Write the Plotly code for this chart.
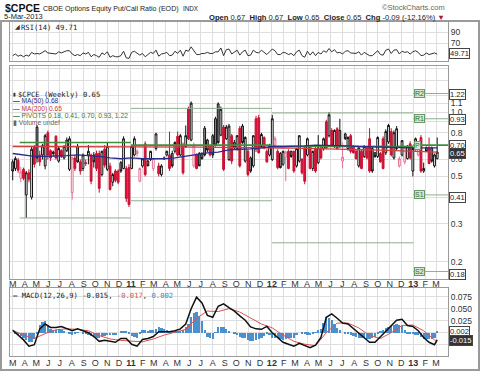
import math
import pandas as pd
import plotly.graph_objects as go

W, H = 480, 372
def fx(px): return px / W
def fy(py): return 1 - py / H

# ---------------- data ----------------
dates = pd.date_range("2010-03-01", periods=158, freq="7D")

opens = [.585,.545,.595,.49,.54,.41,.52,.40,.69,.85,.63,.63,.56,.80,.66,.65,.77,.59,.66,.61,
         .66,.54,.42,.61,.69,.585,.545,.58,.63,.63,.63,.64,.64,.51,.67,.54,.56,.47,.53,.53,
         .58,.545,.545,.55,.545,.63,.64,.475,.56,.71,.59,.60,
         .545,.675,.56,.51,.61,.63,.63,.64,.655,.77,.63,.70,.69,1.04,.74,.56,.63,.64,
         .64,.84,.74,.69,.775,.93,1.09,.78,.85,.75,.60,.775,.72,.675,.84,.86,.59,.655,.61,.56,
         .93,.94,.69,.76,.655,.63,.60,.70,.655,.64,.57,.615,.655,.655,.655,.56,.59,.60,
         .68,.63,.69,.545,.675,.58,.68,.675,.90,.775,.82,.69,.835,.82,.59,.79,.675,.775,.69,.655,
         .56,.655,.62,.68,.75,.675,.645,.62,.64,.75,.645,.725,.81,.61,.675,.56,.63,.585,.606,.71,
         .53,.675,.63,.76,.53,.68,.68,.68,.56,.606]
highs = [.60,.62,.61,.555,.55,.53,.54,.69,.70,.87,.66,.71,.79,.82,.67,.66,.78,.69,.67,.70,
         .76,.77,.62,.63,.71,.60,.64,.60,.70,.64,.65,.66,.66,.66,.70,.72,.58,.52,.54,.54,
         .59,.77,.56,.57,.70,.77,.67,.55,.61,.73,.60,.66,
         .61,.80,.58,.57,.62,.66,.81,.66,.73,.81,.79,.72,.865,1.06,1.12,.72,.64,.65,
         .65,.86,.75,.70,.79,.95,1.11,1.06,.87,.87,.88,.79,.74,.78,.86,.88,.77,.67,.62,.78,
         .96,.97,.80,.77,.67,.71,.97,.77,.67,.65,.66,.66,.67,.66,.66,.68,.78,.61,
         .70,.76,.70,.66,.69,.78,.69,.76,.92,1.00,.84,.83,.85,.93,.72,.80,.77,.79,.70,.67,
         .69,.67,.70,.69,.84,.69,.65,.77,.65,.77,.83,.88,.84,.82,.86,.62,.74,.69,.70,.73,
         .69,.76,.69,.78,.58,.69,.76,.69,.64,.76]
lows = [.48,.53,.52,.47,.48,.32,.47,.39,.55,.58,.56,.60,.54,.60,.59,.62,.60,.58,.61,.60,
        .65,.53,.39,.53,.58,.51,.53,.56,.57,.46,.55,.53,.42,.50,.55,.53,.43,.45,.47,.46,
        .52,.54,.38,.36,.54,.62,.62,.47,.55,.50,.56,.59,
        .53,.66,.50,.50,.60,.62,.53,.55,.64,.62,.62,.51,.68,.74,.73,.55,.54,.56,
        .60,.62,.65,.62,.61,.69,.71,.77,.53,.74,.59,.57,.67,.66,.55,.71,.58,.50,.52,.55,
        .65,.64,.68,.67,.58,.62,.59,.69,.54,.545,.56,.475,.54,.61,.52,.55,.58,.51,
        .46,.62,.54,.53,.52,.57,.60,.66,.67,.76,.69,.68,.67,.68,.545,.74,.66,.64,.64,.60,
        .55,.54,.61,.60,.52,.52,.61,.61,.58,.54,.63,.71,.62,.60,.66,.55,.62,.57,.60,.60,
        .50,.66,.62,.52,.52,.65,.57,.58,.55,.60]
closes = [.53,.606,.535,.525,.49,.52,.485,.67,.57,.61,.585,.695,.775,.63,.61,.64,.61,.675,.62,.69,
          .74,.75,.61,.545,.585,.53,.63,.575,.655,.475,.585,.545,.44,.655,.565,.69,.435,.51,.48,.47,
          .53,.75,.395,.37,.69,.75,.655,.545,.605,.51,.56,.655,
          .606,.79,.515,.56,.605,.655,.545,.56,.72,.63,.775,.52,.775,.75,1.10,.70,.545,.56,
          .605,.63,.665,.63,.63,.70,.72,1.03,.54,.85,.86,.59,.68,.775,.56,.72,.76,.51,.53,.775,
          .67,.645,.785,.68,.585,.695,.93,.75,.55,.55,.655,.65,.545,.62,.53,.675,.775,.52,
          .475,.75,.545,.655,.53,.68,.61,.75,.68,.97,.70,.82,.675,.69,.615,.75,.76,.655,.645,.605,
          .68,.545,.69,.61,.53,.53,.62,.76,.585,.545,.81,.865,.63,.80,.835,.605,.735,.68,.69,.61,
          .675,.75,.68,.53,.545,.655,.575,.59,.63,.65]

rsi = [47,50,46,48,45,48,46,53,50,51, 50,53,56,52,51,51,50,54,52,54,
       56,56,50,47,49,47,52,50,53,45, 49,47,44,52,49,54,44,47,45,45,
       47,55,43,42,53,55,52,48,51,45, 49,53,51,57,46,50,51,53,47,48,
       55,51,57,46,57,55,63,56,49,49, 51,51,53,51,51,54,54,61,47,58,
       59,50,53,57,48,54,57,47,48,57, 53,52,57,53,49,54,59,56,49,49,
       53,52,49,51,47,54,57,47,44,55, 48,54,47,53,50,56,53,60,54,58,
       52,53,50,55,56,52,52,51,54,48, 53,50,47,47,51,56,49,48,57,59,
       51,57,58,50,55,53,54,50,54,56, 53,47,48,52,49,50,52,49.71]

# moving averages read every 4th week (+ last week)
ma50 = [.64,.63,.62,.62,.62,.625,.63,.625,.62,.61,.605,.61,.605,.606,.605,.61,.62,.635,.645,.65,
        .665,.67,.672,.68,.69,.69,.69,.695,.70,.70,.70,.695,.69,.688,.685,.68,.68,.68,.68,.68,.68]
ma200 = [.69,.69,.69,.69,.69,.69,.69,.69,.69,.69,.69,.688,.688,.687,.687,.686,.686,.685,.685,.684,
         .684,.683,.682,.681,.68,.679,.678,.677,.676,.674,.672,.67,.668,.666,.664,.662,.66,.658,.655,.652,.65]

# MACD line read every 2nd week (+ last week)
macd = [.005,-.005,-.015,-.028,-.025,.008,.018,.011,.011,.013,.008,.004,.008,.004,.000,-.008,-.018,-.016,-.018,-.02,
        -.012,-.012,-.024,-.028,-.014,-.012,-.008,.002,.002,.002,.004,.008,.018,.050,.074,.062,.036,.032,.055,.060,
        .052,.045,.035,.026,.012,.008,.007,.013,.000,-.010,-.020,-.024,-.028,-.022,-.027,-.031,-.026,-.010,.032,.039,
        .030,.020,.018,.009,-.002,-.010,-.020,-.020,-.009,.003,.013,.026,.028,.015,.013,.004,-.010,-.020,-.025,-.015]
# signal line read every 4th week (+ last week)
signal = [.005,-.005,-.012,-.002,.006,.008,.007,.004,-.006,-.013,-.016,-.017,-.019,-.013,-.005,.001,.007,.030,.045,.044,
          .050,.043,.030,.018,.010,-.005,-.018,-.024,-.027,.000,.020,.020,.010,-.006,-.012,.000,.015,.016,.004,-.015,-.017]
hist = [0,-.002,-.005,-.007,-.010,-.015,-.019,-.019,-.013,-.001, .015,.022,.025,.015,.008,.006,.005,.005,.006,.002,
        0,-.002,-.004,-.001,.001,0,-.001,-.003,-.004,-.006, -.008,-.010,-.012,-.009,-.006,-.005,-.005,-.005,-.005,0,
        .004,.004,.004,-.001,-.007,-.008,-.010,-.001,.005,.005, .004,.005,.005,.008,.011,.009,.007,.005,.004,.003,
        .003,.003,.004,.006,.011,.019,.032,.042,.044,.034, .024,.006,-.009,-.012,-.013,.001,.011,.012,.012,.007,
        .002,0,-.001,-.005,-.008,-.010,-.010,-.015,-.018,-.017, -.016,-.014,-.011,-.006,-.001,-.005,-.010,-.011,-.012,-.013,
        -.015,-.013,-.012,-.011,-.010,-.005,0,-.002,-.003,-.004, -.005,-.002,.001,.006,.008,.020,.032,.031,.027,.019,
        .010,.005,0,-.001,-.002,-.004,-.006,-.008,-.012,-.012, -.012,-.013,-.014,-.011,-.009,-.003,.003,.006,.009,.011,
        .013,.016,.018,.015,.013,.006,-.001,-.002,-.003,-.004, -.004,-.009,-.014,-.014,-.014,-.013,-.010,.002]

# yearly pivot levels
pivot_start = ["2010-03-19", "2011-01-01", "2012-01-01", "2013-01-01"]
pivot_end = ["2011-01-01", "2012-01-01", "2013-01-01", "2013-04-01"]
pivot_p = [0.72, 0.70, 0.69, 0.70]
pivot_r1 = [None, 1.04, 0.99, 0.93]
pivot_s1 = [0.32, 0.385, 0.245, 0.41]
pivot_r2 = [None, None, None, 1.22]
pivot_s2 = [None, None, None, 0.18]

month_ticks = pd.date_range("2010-03-01", "2013-03-01", freq="MS")
month_text = [("<b>%02d</b>" % (d.year % 100)) if d.month == 1 else "JFMAMJJASOND"[d.month - 1] for d in month_ticks]

# ---------------- figure ----------------
fig = go.Figure()

prev = [closes[0]] + closes[:-1]
up = [c >= p for c, p in zip(closes, prev)]
def pick(arr, mask):
    return [a for a, m in zip(arr, mask) if m]

groups = [
    (up, "#111111", "white", "#111111", "#9a9a9a"),
    ([not u for u in up], "#e2708f", "white", "#c8102e", "#dd1040"),
]
for mask, il, ifc, dl, dfc in groups:
    fig.add_trace(go.Candlestick(
        x=pick(list(dates), mask), open=pick(opens, mask), high=pick(highs, mask),
        low=pick(lows, mask), close=pick(closes, mask),
        increasing=dict(line=dict(color=il, width=1), fillcolor=ifc),
        decreasing=dict(line=dict(color=dl, width=1), fillcolor=dfc),
        whiskerwidth=0, xaxis="x2", yaxis="y2", showlegend=False, hoverinfo="skip"))

def seg_trace(levels, color, width):
    xs, ys = [], []
    for s, e, v in zip(pivot_start, pivot_end, levels):
        if v is None:
            continue
        xs += [s, e, None]
        ys += [v, v, None]
    return go.Scatter(x=xs, y=ys, mode="lines", line=dict(color=color, width=width),
                      xaxis="x2", yaxis="y2", showlegend=False, hoverinfo="skip")

for lv in (pivot_r1, pivot_s1, pivot_r2, pivot_s2):
    fig.add_trace(seg_trace(lv, "#8db08d", 1))
fig.add_trace(seg_trace(pivot_p, "#3f8f3f", 1.6))

ma_dates = list(dates[0::4]) + [dates[-1]]
fig.add_trace(go.Scatter(x=ma_dates, y=ma200, mode="lines", line=dict(color="#d04040", width=1.3),
                         xaxis="x2", yaxis="y2", showlegend=False, hoverinfo="skip"))
fig.add_trace(go.Scatter(x=ma_dates, y=ma50, mode="lines", line=dict(color="#2b2b8c", width=1.3),
                         xaxis="x2", yaxis="y2", showlegend=False, hoverinfo="skip"))

# RSI
fig.add_trace(go.Scatter(x=dates, y=rsi, mode="lines", line=dict(color="#333333", width=1),
                         xaxis="x", yaxis="y", showlegend=False, hoverinfo="skip"))

# MACD
fig.add_trace(go.Bar(x=dates, y=hist, marker=dict(color="#4a90cf", line=dict(width=0)),
                     width=6 * 86400000, xaxis="x3", yaxis="y3", showlegend=False, hoverinfo="skip"))
fig.add_trace(go.Scatter(x=ma_dates, y=signal, mode="lines", line=dict(color="#d9534f", width=1),
                         xaxis="x3", yaxis="y3", showlegend=False, hoverinfo="skip"))
macd_dates = list(dates[0::2]) + [dates[-1]]
fig.add_trace(go.Scatter(x=macd_dates, y=macd, mode="lines", line=dict(color="#111111", width=1.5),
                         xaxis="x3", yaxis="y3", showlegend=False, hoverinfo="skip"))

xr = ["2010-02-22", "2013-04-01"]
grid = "#dedede"
border = "#9a9a9a"
tickfont = dict(family="Liberation Sans, Arial", size=9, color="#333333")
xdom = [fx(10), fx(448)]
common_x = dict(type="date", range=xr, domain=xdom, tickvals=month_ticks, ticktext=month_text,
                showgrid=True, gridcolor=grid, gridwidth=1, showline=True, linecolor=border,
                mirror=True, ticks="", tickfont=tickfont, zeroline=False)
common_y = dict(side="right", showgrid=True, gridcolor=grid, showline=True, linecolor=border,
                mirror=True, ticks="", tickfont=dict(family="Liberation Sans, Arial", size=8.5, color="#333"),
                zeroline=False)

main_ticks = [0.2, 0.3, 0.4, 0.5, 0.6, 0.7, 0.8, 0.9, 1.0, 1.1, 1.2, 1.4, 1.6]
main_text = ["0.2", "0.3", "", "0.5", "0.6", "", "0.8", "", "1.0", "1.1", "", "", ""]

fig.update_layout(
    width=W, height=H, margin=dict(l=0, r=0, t=0, b=0),
    paper_bgcolor="white", plot_bgcolor="white", bargap=0, boxgap=0.05,
    xaxis=dict(common_x, anchor="y", showticklabels=False),
    xaxis2=dict(common_x, anchor="y2", matches="x", rangeslider=dict(visible=False), ticklabelstandoff=-4),
    xaxis3=dict(common_x, anchor="y3", matches="x", ticklabelstandoff=-2),
    yaxis=dict(common_y, domain=[fy(61), fy(22)], range=[37.3, 108.2], tickvals=[70, 90], anchor="x"),
    yaxis2=dict(common_y, domain=[fy(279), fy(66)], type="log",
                range=[math.log10(0.166), math.log10(1.64)], tickvals=main_ticks, ticktext=main_text, anchor="x2"),
    yaxis3=dict(common_y, domain=[fy(356), fy(288)], range=[-0.0485, 0.093],
                tickvals=[-0.025, 0, 0.025, 0.05, 0.075], ticktext=["", "", "0.025", "0.050", "0.075"], anchor="x3"),
)

ann = []
def text(px, py, s, size=8, color="#222", family="Liberation Sans, Arial", xanchor="left", **kw):
    ann.append(dict(x=fx(px), y=fy(py), xref="paper", yref="paper", text=s, showarrow=False,
                    xanchor=xanchor, yanchor="middle", font=dict(size=size, color=color, family=family), **kw))

text(3, 8, "<b>$CPCE</b>", size=10.5, color="#111")
text(41, 9, "CBOE Options Equity Put/Call Ratio (EOD)", size=7.1, color="#222")
text(181, 9, "INDX", size=6.3, color="#222")
text(2, 17, "5-Mar-2013", size=7.5, color="#222")
text(447, 8, "©StockCharts.com", size=7.5, color="#666", xanchor="right")
text(447, 17.5, "<b>Open</b> 0.67  <b>High</b> 0.67  <b>Low</b> 0.65  <b>Close</b> 0.65  <b>Chg</b> -0.09 (-12.16%) <span style='color:#b0103a'>▼</span>",
     size=7.6, color="#222", xanchor="right")

mono = "DejaVu Sans Mono, monospace"
text(12, 27, "<b>◢</b>", size=6, color="#333")
text(19, 27, "RSI(14) 49.71", size=7.2, color="#222", family=mono)
text(11, 94, "▮", size=5, color="#333")
text(16, 94, "$CPCE (Weekly) 0.65", size=7.2, color="#222", family=mono)
text(11, 101.2, "<b>—</b> MA(50) 0.68", size=6.7, color="#2b2b8c")
text(11, 108.5, "<b>—</b> MA(200) 0.65", size=6.7, color="#c83a3a")
text(11, 115.8, "<b>—</b> PIVOTS 0.18, 0.41, 0.70, 0.93, 1.22", size=6.7, color="#2e7d32")
text(11, 123, "▮ Volume undef", size=6.7, color="#666")
text(11, 295, "<b>—</b> MACD(12,26,9) -0.015, <span style='color:#d9534f'>-0.017</span>, <span style='color:#3a86c8'>0.002</span>",
     size=7.2, color="#222", family=mono)

def box(px, py, s, dark=False):
    ann.append(dict(x=fx(px), y=fy(py), xref="paper", yref="paper", text=s, showarrow=False,
                    xanchor="left", yanchor="middle",
                    font=dict(size=7.6, color="white" if dark else "#222", family="Liberation Sans, Arial"),
                    bgcolor="#333" if dark else "white", bordercolor="#444", borderwidth=1, borderpad=0))

box(449, 54, "49.71")
box(449, 94, "1.22")
box(449, 119.5, "0.93")
box(449, 145, "0.70")
box(449, 153, "0.65", dark=True)
box(449, 197, "0.41")
box(449, 274, "0.18")
box(449, 331, "0.002")
box(449, 340, "-0.015", dark=True)

for name, lv in (("R2", pivot_r2[3]), ("R1", pivot_r1[3]), ("P", pivot_p[3]), ("S1", pivot_s1[3]), ("S2", pivot_s2[3])):
    ann.append(dict(x="2013-01-03", y=math.log10(lv), xref="x2", yref="y2", text=name, showarrow=False,
                    xanchor="left", yanchor="middle", font=dict(size=7, color="#2e6b2e", family="Liberation Sans, Arial"),
                    bgcolor="#d5e8d5", bordercolor="#6a9a6a", borderwidth=1, borderpad=0))

fig.update_layout(annotations=ann)
fig.add_shape(type="rect", xref="paper", yref="paper", x0=fx(1), x1=fx(479), y0=fy(370), y1=fy(21),
              line=dict(color="#9a9a9a", width=2))
fig.write_html("out.html", config={"displayModeBar": False},
               post_script="document.body.style.margin='0';document.body.style.overflow='hidden';")
